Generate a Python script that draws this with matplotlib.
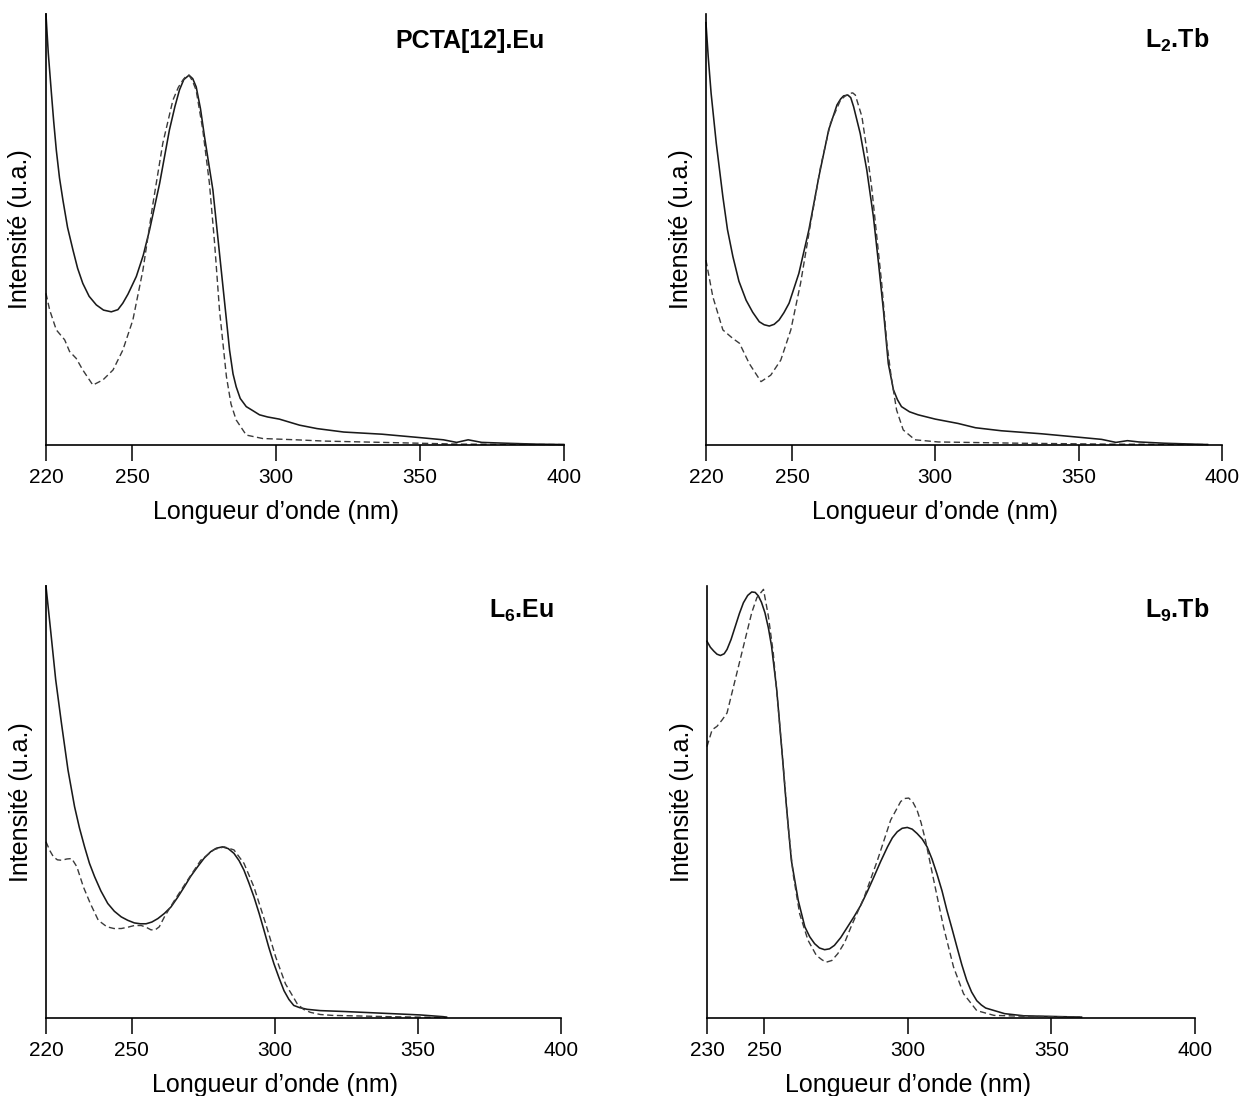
import matplotlib
matplotlib.use("Agg")
import matplotlib.pyplot as plt
import matplotlib.transforms as mtransforms

plt.rcParams["font.family"] = ["Liberation Sans", "DejaVu Sans"]
plt.rcParams["mathtext.fontset"] = "custom"
plt.rcParams["mathtext.rm"] = "Liberation Sans"
plt.rcParams["mathtext.bf"] = "Liberation Sans:bold"

# PCTA[12].Eu
p1_wl_solid = [220, 220.8, 221.9, 222.7, 223.6, 224.7, 225.9, 227.5, 229.4, 231.0,
               232.8, 235.0, 237.5, 240.0, 242.7, 245.0, 246.7, 248.5, 251.4, 253.8,
               256.0, 259.5, 262.9, 264.8, 266.4, 267.9, 269.7, 271.0, 272.2, 273.7,
               275.1, 278.0, 280.9, 282.4, 283.8, 285.0, 286.1, 287.5, 289.6, 291.8,
               294.2, 297.0, 301.1, 308.1, 314.2, 323.5, 336.8, 350.1, 358.1, 362.7,
               366.7, 371.4, 380.0, 390.0, 400]
p1_int_solid = [1.0, 0.91, 0.816, 0.75, 0.684, 0.62, 0.568, 0.505, 0.452, 0.41,
                0.375, 0.345, 0.325, 0.313, 0.309, 0.314, 0.329, 0.350, 0.391, 0.440,
                0.499, 0.607, 0.731, 0.785, 0.824, 0.848, 0.858, 0.850, 0.831, 0.780,
                0.715, 0.592, 0.406, 0.31, 0.220, 0.165, 0.135, 0.108, 0.089, 0.080,
                0.070, 0.065, 0.060, 0.046, 0.038, 0.030, 0.025, 0.017, 0.012, 0.006,
                0.012, 0.006, 0.004, 0.002, 0.001]
p1_wl_dash = [220, 221.3, 223.6, 226.5, 228.2, 230.5, 232.8, 236.3, 239.8, 243.3,
              246.7, 250.2, 253.7, 257.2, 260.6, 264.1, 266.0, 267.6, 268.6, 269.7,
              270.9, 272.2, 274.5, 276.8, 278.6, 280.3, 282.7, 284.3, 286.1, 289.6,
              295.3, 306.9, 316.9, 336.8, 363.4, 400]
p1_int_dash = [0.352, 0.313, 0.267, 0.244, 0.217, 0.201, 0.174, 0.139, 0.151, 0.174,
               0.220, 0.290, 0.406, 0.561, 0.700, 0.800, 0.830, 0.847, 0.855, 0.858,
               0.845, 0.823, 0.731, 0.607, 0.468, 0.313, 0.159, 0.095, 0.058, 0.023,
               0.015, 0.012, 0.009, 0.006, 0.002, 0.001]

# L2.Tb
p2_wl_solid = [220, 220.8, 221.8, 223.6, 225.9, 227.5, 229.4, 231.5, 234.0, 236.3,
               238.6, 240.3, 242.1, 243.8, 245.5, 247.2, 249.0, 252.4, 255.9, 259.4,
               262.8, 265.7, 267.0, 268.0, 269.5, 270.5, 271.5, 273.8, 276.1, 278.4,
               280.2, 281.9, 283.6, 285.4, 286.8, 288.2, 291.0, 294.0, 300.0, 307.9,
               314, 323, 337, 350, 358, 363, 367, 371, 380, 390, 395]
p2_int_solid = [0.98, 0.90, 0.816, 0.700, 0.576, 0.50, 0.437, 0.38, 0.336, 0.308,
                0.286, 0.279, 0.276, 0.280, 0.290, 0.307, 0.329, 0.398, 0.499, 0.623,
                0.731, 0.789, 0.803, 0.810, 0.812, 0.806, 0.785, 0.723, 0.638, 0.530,
                0.421, 0.313, 0.189, 0.128, 0.105, 0.089, 0.077, 0.070, 0.060, 0.050,
                0.040, 0.033, 0.026, 0.018, 0.013, 0.006, 0.010, 0.007, 0.004, 0.002,
                0.001]
p2_wl_dash = [220, 222.4, 225.9, 229.4, 231.7, 235.1, 239.2, 242.6, 246.1, 249.6,
              253.0, 256.5, 260.0, 263.4, 266.9, 268.6, 270.3, 271.2, 272.1, 274.4,
              276.1, 277.9, 279.6, 281.3, 283.1, 284.6, 286.5, 288.8, 292.9, 301.0,
              330, 360, 395]
p2_int_dash = [0.429, 0.344, 0.267, 0.247, 0.236, 0.189, 0.147, 0.162, 0.197, 0.267,
               0.375, 0.514, 0.646, 0.746, 0.800, 0.810, 0.816, 0.817, 0.812, 0.762,
               0.685, 0.592, 0.483, 0.375, 0.236, 0.159, 0.081, 0.035, 0.012, 0.007,
               0.004, 0.002, 0.001]

# L6.Eu
p3_wl_solid = [220, 221.6, 223.4, 225.4, 227.7, 230.0, 231.7, 233.5, 235.2, 237.0,
               239.2, 241.6, 243.9, 246.3, 248.6, 250.9, 253.0, 255.0, 257.0, 259.1,
               261.4, 263.7, 266.0, 268.3, 270.6, 273.0, 275.3, 277.6, 279.6, 281.7,
               283.7, 285.7, 287.5, 289.2, 290.9, 292.7, 294.5, 296.2, 297.9, 299.7,
               301.5, 303.2, 304.9, 306.6, 308.6, 311.3, 315.9, 324.1, 337.5, 350.8,
               358.8, 360]
p3_int_solid = [1.0, 0.899, 0.783, 0.683, 0.574, 0.489, 0.440, 0.396, 0.358, 0.327,
                0.294, 0.265, 0.247, 0.234, 0.226, 0.220, 0.218, 0.218, 0.222, 0.230,
                0.242, 0.257, 0.279, 0.303, 0.328, 0.350, 0.370, 0.385, 0.393, 0.396,
                0.392, 0.381, 0.364, 0.342, 0.313, 0.280, 0.242, 0.203, 0.163, 0.125,
                0.092, 0.063, 0.043, 0.029, 0.024, 0.020, 0.017, 0.015, 0.011, 0.007,
                0.003, 0.002]
p3_wl_dash = [220, 221.3, 222.6, 224.0, 225.5, 227.3, 229.0, 230.8, 233.1, 235.5,
              238.3, 241.3, 243.8, 246.3, 248.6, 250.9, 253.3, 255.0, 256.7, 258.2,
              259.6, 261.4, 264.9, 269.5, 274.1, 278.8, 282.3, 285.7, 289.2, 292.7,
              296.8, 300.3, 303.7, 307.8, 310.0, 312.4, 315.9, 320, 340, 360]
p3_int_dash = [0.408, 0.388, 0.373, 0.366, 0.365, 0.368, 0.369, 0.350, 0.303, 0.265,
               0.226, 0.211, 0.207, 0.207, 0.210, 0.214, 0.214, 0.210, 0.204, 0.204,
               0.211, 0.234, 0.272, 0.319, 0.365, 0.390, 0.396, 0.389, 0.358, 0.303,
               0.218, 0.141, 0.079, 0.033, 0.020, 0.013, 0.008, 0.006, 0.003, 0.001]

# L9.Tb
p4_wl_solid = [230, 231.2, 232.4, 233.5, 234.7, 236.0, 237.0, 238.4, 239.9, 241.3,
               242.7, 244.2, 245.6, 246.8, 247.9, 249.0, 250.2, 251.4, 252.5, 254.3,
               256.0, 257.7, 259.4, 261.8, 264.1, 265.8, 267.5, 269.2, 271.0, 272.7,
               274.4, 276.6, 279.0, 281.3, 283.6, 285.9, 288.2, 290.5, 292.9, 294.6,
               296.3, 298.0, 299.8, 301.5, 303.2, 305.0, 306.7, 308.4, 310.1, 311.9,
               313.6, 315.4, 317.1, 318.8, 320.5, 322.2, 324.0, 325.6, 327.1, 333.7,
               340.4, 360.5]
p4_int_solid = [0.872, 0.858, 0.849, 0.842, 0.839, 0.843, 0.853, 0.876, 0.907, 0.936,
                0.961, 0.978, 0.986, 0.985, 0.977, 0.962, 0.938, 0.903, 0.861, 0.760,
                0.628, 0.489, 0.365, 0.272, 0.211, 0.188, 0.172, 0.162, 0.158, 0.160,
                0.168, 0.186, 0.211, 0.235, 0.261, 0.293, 0.327, 0.362, 0.396, 0.417,
                0.431, 0.439, 0.441, 0.437, 0.427, 0.414, 0.396, 0.368, 0.334, 0.294,
                0.249, 0.206, 0.164, 0.123, 0.087, 0.060, 0.040, 0.030, 0.023, 0.010,
                0.005, 0.002]
p4_wl_dash = [230, 231.8, 233.5, 235.3, 237.0, 238.7, 241.0, 243.3, 245.6, 247.4,
              249.7, 251.4, 253.1, 254.8, 256.6, 258.3, 260.0, 262.3, 265.2, 268.1,
              270.0, 271.5, 273.5, 275.6, 278.0, 280.2, 284.8, 289.4, 294.0, 297.5,
              298.9, 300.3, 301.7, 303.2, 304.6, 306.1, 309.0, 312.4, 315.9, 319.4,
              324.0, 330, 340, 360]
p4_int_dash = [0.628, 0.667, 0.675, 0.690, 0.706, 0.752, 0.814, 0.876, 0.938, 0.973,
               0.992, 0.930, 0.845, 0.721, 0.582, 0.443, 0.334, 0.241, 0.180, 0.145,
               0.135, 0.129, 0.133, 0.149, 0.175, 0.211, 0.280, 0.365, 0.458, 0.501,
               0.508, 0.509, 0.500, 0.481, 0.452, 0.412, 0.319, 0.211, 0.118, 0.056,
               0.017, 0.006, 0.004, 0.002]

titles = ["PCTA[12].Eu", r"L$_\mathbf{2}$.Tb", r"L$_\mathbf{6}$.Eu", r"L$_\mathbf{9}$.Tb"]
xticks_top = [220, 250, 300, 350, 400]
xticks_l9 = [230, 250, 300, 350, 400]

# ====== 2. Mise en page ======
fig = plt.figure(figsize=(12.42, 10.96), dpi=100)

panels = [
    # rect, xmin, ticks, solid, dashed, title position
    ([0.0370, 0.5940, 0.4171, 0.3932], 220, xticks_top,
     (p1_wl_solid, p1_int_solid), (p1_wl_dash, p1_int_dash), (0.4388, 0.9562)),
    ([0.5684, 0.5940, 0.4155, 0.3932], 220, xticks_top,
     (p2_wl_solid, p2_int_solid), (p2_wl_dash, p2_int_dash), (0.9734, 0.9562)),
    ([0.0370, 0.0712, 0.4147, 0.3942], 220, xticks_top,
     (p3_wl_solid, p3_int_solid), (p3_wl_dash, p3_int_dash), (0.4461, 0.4361)),
    ([0.5692, 0.0712, 0.3929, 0.3942], 230, xticks_l9,
     (p4_wl_solid, p4_int_solid), (p4_wl_dash, p4_int_dash), (0.9734, 0.4361)),
]

# ====== 3. Tracé ======
for (rect, xmin, ticks, solid, dashed, tpos), title in zip(panels, titles):
    ax = fig.add_axes(rect)
    ax.plot(solid[0], solid[1], color="#1a1a1a", lw=1.15, clip_on=False,
            solid_joinstyle="round")
    ax.plot(dashed[0], dashed[1], color="#3a3a3a", lw=1.0,
            linestyle=(0, (4.5, 2.5)), clip_on=False)

    ax.set_xlim(xmin, 400)
    ax.set_ylim(0, 1)
    ax.spines["top"].set_visible(False)
    ax.spines["right"].set_visible(False)
    for s in ("left", "bottom"):
        ax.spines[s].set_linewidth(1.2)
    ax.set_yticks([])
    ax.set_xticks(ticks)
    ax.tick_params(axis="x", direction="out", length=11.5, width=1.1,
                   pad=5, labelsize=15)

    ax.set_xlabel("Longueur d’onde (nm)", fontsize=18)
    ax.set_ylabel("Intensité (u.a.)", fontsize=18)
    trans = mtransforms.blended_transform_factory(ax.transData, ax.transAxes)
    ax.xaxis.set_label_coords(300, -0.128, transform=trans)
    ax.yaxis.set_label_coords(-0.026, 0.5)

    fig.text(tpos[0], tpos[1], title, ha="right", va="baseline",
             fontsize=18, fontweight="bold")

fig.savefig("out.png", dpi=100)
